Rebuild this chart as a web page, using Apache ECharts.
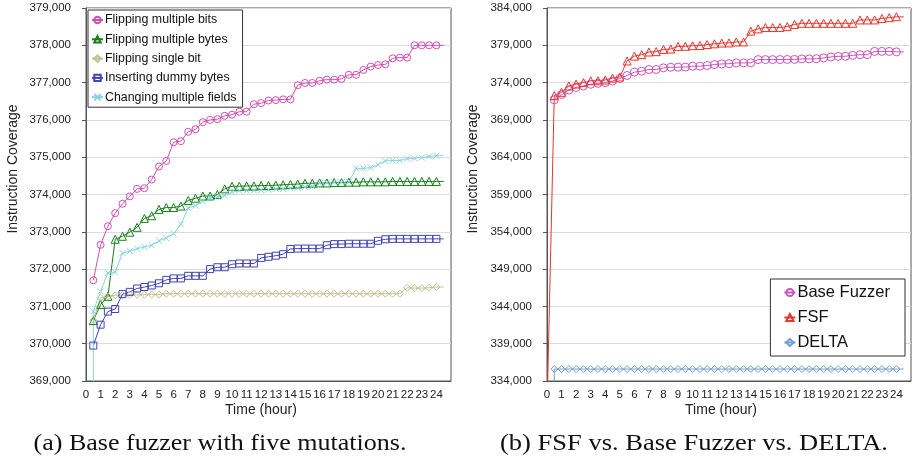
<!DOCTYPE html>
<html>
<head>
<meta charset="utf-8">
<script src="https://cdn.jsdelivr.net/npm/echarts@6/dist/echarts.min.js"></script>
<style>
html,body{margin:0;padding:0;background:#fff;}
#c{width:913px;height:462px;}
</style>
</head>
<body>
<div id="c"></div>
<script>
// ---- Data ----
const hours = [0.5,1,1.5,2,2.5,3,3.5,4,4.5,5,5.5,6,6.5,7,7.5,8,8.5,9,9.5,10,10.5,11,11.5,12,12.5,13,13.5,14,14.5,15,15.5,16,16.5,17,17.5,18,18.5,19,19.5,20,20.5,21,21.5,22,22.5,23,23.5,24,24.5];
const xTickLabels = ['0','1','2','3','4','5','6','7','8','9','10','11','12','13','14','15','16','17','18','19','20','21','22','23','24'];

// (a) Base fuzzer with five mutations
const flippingMultipleBits = [371700,372650,373150,373500,373750,373950,374150,374170,374400,374750,374900,375400,375430,375680,375750,375940,376000,376020,376110,376140,376220,376220,376420,376450,376520,376530,376550,376550,376930,376990,376990,377050,377080,377080,377100,377210,377210,377340,377430,377470,377490,377650,377670,377670,378000,378000,378000,378000,378000];
const flippingMultipleBytes = [370620,371050,371270,372800,372880,372990,373120,373360,373430,373600,373650,373650,373690,373840,373900,373960,373960,374000,374150,374220,374220,374230,374230,374240,374240,374250,374260,374270,374280,374300,374300,374310,374310,374320,374320,374330,374330,374340,374340,374340,374340,374350,374350,374350,374350,374350,374350,374350,374350];
const flippingSingleBit = [370630,371230,371270,371300,371300,371310,371310,371310,371320,371320,371340,371340,371340,371340,371340,371340,371340,371340,371340,371340,371340,371340,371340,371340,371340,371340,371340,371340,371340,371340,371340,371340,371340,371340,371340,371340,371340,371340,371340,371340,371340,371340,371340,371500,371490,371490,371500,371520,371520];
const insertingDummyBytes = [369950,370510,370860,370930,371330,371390,371480,371520,371560,371620,371710,371750,371750,371820,371820,371820,372000,372050,372050,372130,372150,372150,372150,372300,372330,372360,372400,372540,372550,372550,372550,372550,372640,372670,372670,372680,372680,372680,372680,372760,372800,372810,372810,372810,372810,372810,372810,372810,372810];
const changingMultipleFields = [370870,371400,371900,371920,372430,372480,372550,372590,372640,372760,372830,372950,373200,373640,373700,373820,373910,373940,373970,374060,374100,374110,374110,374120,374130,374150,374150,374170,374180,374200,374220,374300,374320,374330,374330,374340,374700,374700,374720,374800,374900,374910,374910,374960,374970,374990,375020,375040,375040];
const changingMultipleFieldsLead = [0.5, 365000];

// (b) FSF vs. Base Fuzzer vs. DELTA
const baseFuzzer = [371700,372400,373000,373350,373550,373770,373900,374000,374200,374550,374950,375400,375530,375750,375760,375980,376060,376070,376080,376200,376210,376290,376420,376500,376530,376640,376640,376650,377080,377080,377080,377090,377100,377110,377170,377180,377200,377300,377440,377520,377530,377650,377740,377740,378180,378180,378180,378120,378120];
const fsf = [372250,372700,373550,373800,374000,374250,374250,374350,374600,374750,376900,377550,377750,378100,378150,378450,378500,378850,378870,378950,378970,379100,379200,379300,379320,379450,379450,380900,381200,381380,381380,381400,381500,381800,381950,381950,381950,381950,381950,381950,381950,381950,382400,382400,382400,382600,382700,382830,382800];
const fsfLead = [0, 330000];
const delta = [335600,335600,335600,335600,335600,335600,335600,335600,335600,335600,335600,335600,335600,335600,335600,335600,335600,335600,335600,335600,335600,335600,335600,335600,335600,335600,335600,335600,335600,335600,335600,335600,335600,335600,335600,335600,335600,335600,335600,335600,335600,335600,335600,335600,335600,335600,335600,335600,335600];
const deltaLead = [0.5, 330000];

const leftYTicks = {min: 369000, max: 379000, step: 1000};
const rightYTicks = {min: 334000, max: 384000, step: 5000};

// ---- Build ----
const FONT = 'Liberation Sans';
function fmt(v){ return String(Math.round(v)).replace(/\B(?=(\d{3})+(?!\d))/g, ','); }
function buildData(vals, lead){
  const d = hours.map((h,i)=>({value:[h, vals[i]]}));
  d[d.length-1].symbol = 'none';
  if (lead) d.unshift({value: lead, symbol: 'none'});
  return d;
}
function mkSeries(name, vals, color, symbol, size, gi, lead){
  return {
    type:'line', name, xAxisIndex:gi, yAxisIndex:gi,
    data: buildData(vals, lead),
    symbol, symbolSize:size, showAllSymbol:true, clip:true,
    lineStyle:{color, width:1},
    itemStyle:{color:'rgba(255,255,255,0)', borderColor:color, borderWidth:1},
    emphasis:{disabled:true}, animation:false, z: 3
  };
}
const xMark = 'path://M0,0L10,10M10,0L0,10';
const C = {pink:'#d04fb2', green:'#17801a', olive:'#c2c08e', blue:'#4343b2', cyan:'#86d3e2',
           bpink:'#cc55bb', red:'#e6352b', dblue:'#6f9fd3'};

function xAxis(gi){
  return {type:'value', gridIndex:gi, min:0, max:25, interval:1,
    axisLine:{show:true, lineStyle:{color:'#555', width:1}},
    axisTick:{show:false}, splitLine:{show:false},
    axisLabel:{fontFamily:FONT, fontSize:11.5, color:'#222', margin:8,
      formatter:(v)=> xTickLabels[v] !== undefined ? xTickLabels[v] : ''}};
}
function yAxis(gi, t){
  return {type:'value', gridIndex:gi, min:t.min, max:t.max, interval:t.step,
    axisLine:{show:true, lineStyle:{color:'#555', width:1}},
    axisTick:{show:true, inside:false, length:4, lineStyle:{color:'#555'}},
    splitLine:{show:true, lineStyle:{color:'#dcdcdc', width:1}},
    axisLabel:{fontFamily:FONT, fontSize:11.5, color:'#222', margin:15, formatter:fmt}};
}

// caption text fitted horizontally to the reference's caption width
const CAP_FONT = '23px "Liberation Serif"';
const measureCtx = document.createElement('canvas').getContext('2d');
function caption(text, cx, cy, targetW){
  measureCtx.font = CAP_FONT;
  const w = measureCtx.measureText(text).width || targetW;
  return {type:'text', x:cx, y:cy, scaleX: targetW / w, scaleY: 1,
    style:{text, font:CAP_FONT, fill:'#111', textAlign:'center', textVerticalAlign:'middle'}};
}

const option = {
  backgroundColor:'#fff',
  animation:false,
  grid:[
    {left:86, right:462, top:8, bottom:81, show:true, borderColor:'#555', borderWidth:1, outerBoundsMode:'none'},
    {left:547, right:2, top:8, bottom:81, show:true, borderColor:'#555', borderWidth:1, outerBoundsMode:'none'}
  ],
  xAxis:[xAxis(0), xAxis(1)],
  yAxis:[yAxis(0, leftYTicks), yAxis(1, rightYTicks)],
  legend:[
    {left:88, top:10, orient:'vertical', backgroundColor:'#fff', borderColor:'#333', borderWidth:1,
     padding:[4,6,4,3], itemGap:7.3, itemWidth:11, itemHeight:8,
     textStyle:{fontFamily:FONT, fontSize:12.4, color:'#111', padding:[0,0,0,-3]},
     data:['Flipping multiple bits','Flipping multiple bytes','Flipping single bit','Inserting dummy bytes','Changing multiple fields']},
    {right:8, top:279, orient:'vertical', backgroundColor:'#fff', borderColor:'#333', borderWidth:1,
     padding:[5,15,5,13], itemGap:8, itemWidth:11, itemHeight:9,
     textStyle:{fontFamily:FONT, fontSize:16.5, color:'#111', padding:[0,0,0,-3]},
     data:['Base Fuzzer','FSF','DELTA']}
  ],
  series:[
    mkSeries('Flipping multiple bits', flippingMultipleBits, C.pink, 'circle', 7, 0),
    mkSeries('Flipping multiple bytes', flippingMultipleBytes, C.green, 'triangle', 8, 0),
    mkSeries('Flipping single bit', flippingSingleBit, C.olive, 'diamond', 7, 0),
    mkSeries('Inserting dummy bytes', insertingDummyBytes, C.blue, 'rect', 7, 0),
    mkSeries('Changing multiple fields', changingMultipleFields, C.cyan, xMark, 6, 0, changingMultipleFieldsLead),
    mkSeries('Base Fuzzer', baseFuzzer, C.bpink, 'circle', 8, 1),
    mkSeries('FSF', fsf, C.red, 'triangle', 8, 1, fsfLead),
    mkSeries('DELTA', delta, C.dblue, 'diamond', 7, 1, deltaLead)
  ],
  graphic:[
    {type:'text', x:13, y:169, rotation:Math.PI/2, style:{text:'Instruction Coverage', font:'14px "Liberation Sans"', fill:'#222', textAlign:'center', textVerticalAlign:'middle'}},
    {type:'text', x:473, y:169, rotation:Math.PI/2, style:{text:'Instruction Coverage', font:'14px "Liberation Sans"', fill:'#222', textAlign:'center', textVerticalAlign:'middle'}},
    {type:'text', x:261, y:410, style:{text:'Time (hour)', font:'14px "Liberation Sans"', fill:'#222', textAlign:'center', textVerticalAlign:'middle'}},
    {type:'text', x:721, y:410, style:{text:'Time (hour)', font:'14px "Liberation Sans"', fill:'#222', textAlign:'center', textVerticalAlign:'middle'}},
    caption('(a) Base fuzzer with five mutations.', 220, 444, 373),
    caption('(b) FSF vs. Base Fuzzer vs. DELTA.', 694, 444, 388)
  ]
};
const chart = echarts.init(document.getElementById('c'), null, {renderer:'canvas'});
chart.setOption(option);
</script>
</body>
</html>
